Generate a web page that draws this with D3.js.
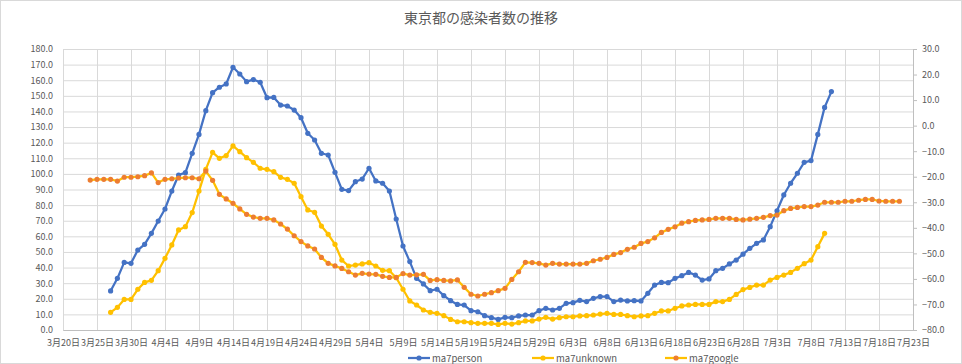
<!DOCTYPE html>
<html>
<head>
<meta charset="utf-8">
<script src="https://cdn.jsdelivr.net/npm/d3@7"></script>
<style>
  body { margin: 0; background: #fff; }
  svg text { font-family: "Noto Sans CJK JP", "Noto Sans", sans-serif; fill: #595959; }
</style>
</head>
<body>
<div id="chart"></div>
<script>
"use strict";

// chart data
const chartTitle = "東京都の感染者数の推移";
const axisStart = "2020-03-20";
const axisEnd = "2020-07-23";

const personStart = "2020-03-27";
const ma7person = [
  25.0, 33.1, 43.3, 42.7, 51.2, 54.9, 61.9, 69.8, 77.5, 89.0,
  99.3, 100.8, 113.2, 125.3, 140.5, 152.0, 155.5, 157.6, 168.3, 164.0,
  159.1, 160.4, 158.7, 148.8, 149.0, 144.1, 143.5, 140.9, 136.0, 126.0,
  121.7, 113.2, 112.1, 101.0, 90.1, 89.3, 95.0, 96.7, 103.6, 95.5,
  94.0, 89.0, 71.1, 53.8, 43.8, 33.1, 29.5, 25.2, 26.1, 22.0,
  18.8, 16.4, 16.0, 12.4, 11.7, 9.2, 7.9, 6.8, 8.1, 7.9,
  9.0, 9.6, 9.6, 12.4, 13.9, 12.8, 13.9, 17.1, 17.5, 19.0,
  18.2, 20.3, 21.4, 21.4, 18.2, 19.2, 18.6, 18.8, 18.6, 23.5,
  28.8, 30.5, 30.3, 33.1, 34.8, 36.9, 35.2, 32.0, 32.7, 38.0,
  39.5, 42.3, 44.8, 48.6, 52.3, 55.5, 57.7, 66.2, 76.4, 86.5,
  94.0, 100.4, 107.4, 108.5, 125.3, 142.6, 152.7
];

const unknownStart = "2020-03-27";
const ma7unknown = [
  11.3, 14.5, 19.6, 19.6, 26.1, 30.5, 31.8, 38.0, 45.9, 54.5,
  64.1, 66.2, 75.2, 89.0, 102.9, 113.8, 110.0, 111.7, 117.9, 114.2,
  110.4, 107.4, 103.6, 102.9, 101.4, 97.8, 96.5, 94.0, 85.4, 76.9,
  75.4, 66.6, 61.3, 54.9, 44.8, 41.0, 41.6, 42.3, 43.1, 41.0,
  38.2, 38.0, 33.5, 26.1, 18.6, 16.0, 12.8, 11.3, 10.7, 9.2,
  6.8, 5.3, 5.3, 4.7, 4.3, 4.3, 4.3, 3.6, 4.3, 3.8,
  4.7, 5.8, 5.8, 7.0, 8.1, 7.0, 7.9, 8.5, 8.5, 9.0,
  9.2, 9.6, 10.2, 10.7, 10.0, 10.0, 9.2, 8.5, 9.0, 9.2,
  10.7, 12.2, 12.2, 13.9, 15.4, 16.0, 16.4, 16.4, 16.4, 18.2,
  18.2, 19.6, 22.8, 25.9, 27.3, 28.8, 28.8, 32.0, 33.7, 35.2,
  36.9, 39.5, 42.5, 44.8, 53.4, 61.9
];

const googleStart = "2020-03-24";
const ma7google = [
  -21.3, -21.0, -21.0, -21.0, -21.7, -20.2, -20.2, -20.0, -19.6, -18.5,
  -22.3, -21.0, -20.8, -20.5, -20.4, -20.4, -20.8, -17.8, -21.4, -26.9,
  -28.7, -30.4, -32.6, -34.7, -35.8, -36.3, -36.3, -36.9, -38.5, -40.5,
  -43.1, -45.4, -47.1, -48.3, -51.6, -53.9, -54.9, -55.9, -57.2, -58.5,
  -57.8, -58.1, -58.2, -59.0, -59.4, -59.4, -57.9, -58.5, -58.4, -58.2,
  -60.6, -60.3, -60.6, -60.8, -60.4, -63.3, -66.0, -66.7, -66.0, -65.4,
  -64.6, -63.7, -60.2, -57.2, -53.5, -53.6, -53.9, -54.6, -53.9, -54.2,
  -54.2, -54.2, -54.2, -53.9, -52.9, -52.3, -51.6, -50.4, -49.7, -48.4,
  -47.6, -46.1, -45.4, -43.9, -41.8, -40.6, -39.6, -38.2, -37.6, -37.1,
  -36.9, -36.7, -36.3, -36.3, -36.3, -36.7, -36.9, -36.6, -36.3, -35.9,
  -35.2, -35.0, -33.3, -32.4, -32.0, -31.7, -31.7, -31.1, -30.0, -30.0,
  -30.0, -29.6, -29.6, -29.2, -28.9, -28.9, -29.5, -29.6, -29.6, -29.6
];

const leftTicks = [0, 10, 20, 30, 40, 50, 60, 70, 80, 90, 100, 110, 120, 130, 140, 150, 160, 170, 180];
const rightTicks = [-80, -70, -60, -50, -40, -30, -20, -10, 0, 10, 20, 30];

const width = 962, height = 364;
const margin = {top: 49, right: 49, bottom: 34, left: 63};
const plotW = width - margin.left - margin.right;
const plotH = height - margin.top - margin.bottom;

const parse = d3.timeParse("%Y-%m-%d");
const fmtDay = d3.timeFormat("%-m月%-d日");

// turn a start date + daily values into points
function toPoints(start, values) {
  const d0 = parse(start);
  return values.map((v, i) => ({date: d3.timeDay.offset(d0, i), value: v}));
}

const series = [
  {name: "ma7person", points: toPoints(personStart, ma7person), axis: "left", line: "#4472C4", marker: "#4472C4"},
  {name: "ma7unknown", points: toPoints(unknownStart, ma7unknown), axis: "left", line: "#FFC000", marker: "#FFC000"},
  {name: "ma7google", points: toPoints(googleStart, ma7google), axis: "right", line: "#FFC000", marker: "#ED7D31"}
];

const x = d3.scaleTime()
  .domain([parse(axisStart), parse(axisEnd)])
  .range([0, plotW]);
const yLeft = d3.scaleLinear().domain([0, 180]).range([plotH, 0]);
const yRight = d3.scaleLinear().domain([-80, 30]).range([plotH, 0]);

const xTicks = d3.range(0, 26).map(i => d3.timeDay.offset(parse(axisStart), i * 5));

const svg = d3.select("#chart").append("svg")
  .attr("width", width)
  .attr("height", height);

svg.append("rect")
  .attr("x", 0.5).attr("y", 0.5)
  .attr("width", width - 1).attr("height", height - 1)
  .attr("fill", "#fff")
  .attr("stroke", "#d9d9d9");

svg.append("text")
  .attr("x", width / 2)
  .attr("y", 23)
  .attr("text-anchor", "middle")
  .style("font-size", "14px")
  .text(chartTitle);

const g = svg.append("g")
  .attr("transform", "translate(" + margin.left + "," + margin.top + ")");

// horizontal gridlines (primary axis)
g.append("g")
  .call(d3.axisLeft(yLeft).tickValues(leftTicks).tickSize(-plotW).tickFormat(""))
  .call(a => a.select(".domain").remove())
  .call(a => a.selectAll("line").attr("stroke", "#d9d9d9"));

// vertical gridlines
g.append("g")
  .attr("transform", "translate(0," + plotH + ")")
  .call(d3.axisBottom(x).tickValues(xTicks).tickSize(-plotH).tickFormat(""))
  .call(a => a.select(".domain").remove())
  .call(a => a.selectAll("line").attr("stroke", "#d9d9d9"));

// left axis labels
g.append("g")
  .call(d3.axisLeft(yLeft).tickValues(leftTicks).tickSize(0).tickPadding(10).tickFormat(d3.format(".1f")))
  .call(a => a.select(".domain").attr("stroke", "#d9d9d9"))
  .call(a => a.selectAll("text").style("font-size", "9px").attr("fill", "#595959"));

// right axis
g.append("g")
  .attr("transform", "translate(" + plotW + ",0)")
  .call(d3.axisRight(yRight).tickValues(rightTicks).tickSizeInner(4).tickSizeOuter(0).tickPadding(5).tickFormat(d3.format(".1f")))
  .call(a => a.select(".domain").attr("stroke", "#bfbfbf"))
  .call(a => a.selectAll("line").attr("stroke", "#bfbfbf"))
  .call(a => a.selectAll("text").style("font-size", "9px").attr("fill", "#595959"));

// bottom axis
g.append("g")
  .attr("transform", "translate(0," + plotH + ")")
  .call(d3.axisBottom(x).tickValues(xTicks).tickSize(0).tickPadding(10).tickFormat(fmtDay))
  .call(a => a.select(".domain").attr("stroke", "#bfbfbf"))
  .call(a => a.selectAll("text").style("font-size", "9px").attr("fill", "#595959"));

// series lines + markers
series.forEach(s => {
  const y = s.axis === "left" ? yLeft : yRight;
  const line = d3.line()
    .x(d => x(d.date))
    .y(d => y(d.value));

  g.append("path")
    .datum(s.points)
    .attr("d", line)
    .attr("fill", "none")
    .attr("stroke", s.line)
    .attr("stroke-width", 2.25)
    .attr("stroke-linejoin", "round");

  g.append("g")
    .selectAll("circle")
    .data(s.points)
    .join("circle")
      .attr("cx", d => x(d.date))
      .attr("cy", d => y(d.value))
      .attr("r", 2.6)
      .attr("fill", s.marker);
});

// legend
const legendX = [408, 532, 665];
const legend = svg.append("g");
series.forEach((s, i) => {
  const lg = legend.append("g").attr("transform", "translate(" + legendX[i] + ",358)");
  lg.append("line")
    .attr("x1", 0).attr("x2", 22)
    .attr("stroke", s.line)
    .attr("stroke-width", 2.25);
  lg.append("circle")
    .attr("cx", 11).attr("r", 2.6)
    .attr("fill", s.marker);
  lg.append("text")
    .attr("x", 24)
    .attr("y", 3.5)
    .style("font-size", "9.5px")
    .text(s.name);
});
</script>
</body>
</html>
